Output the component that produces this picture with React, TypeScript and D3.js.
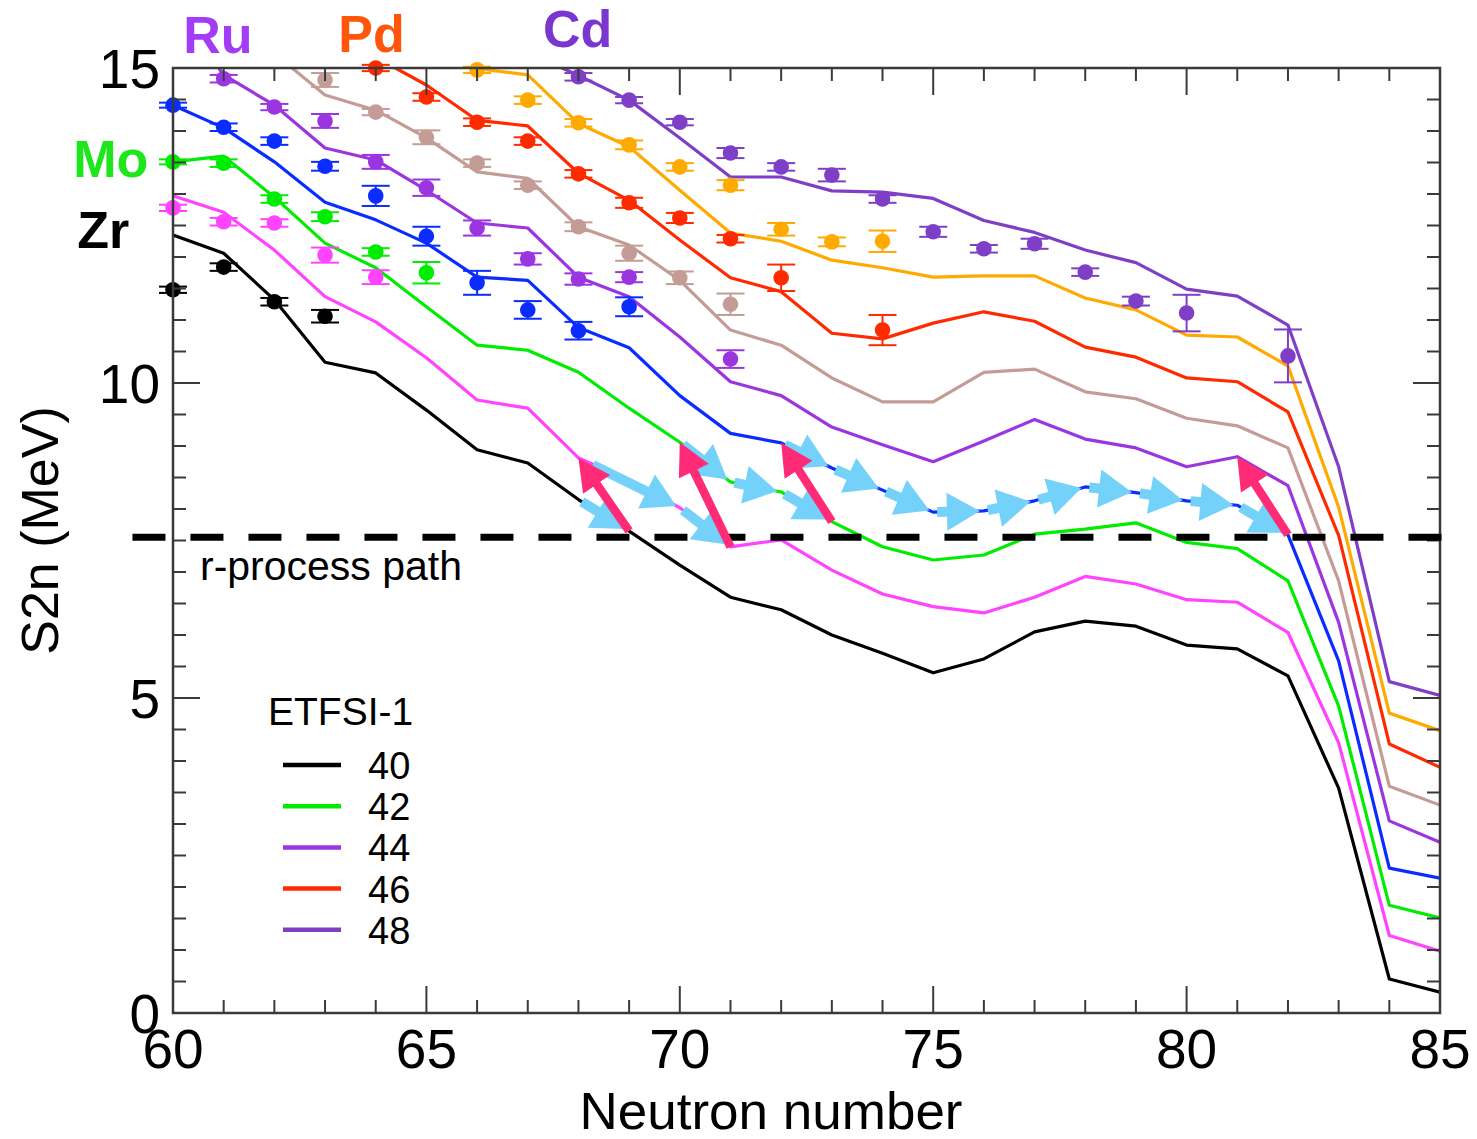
import React from "react";
import * as d3 from "d3";

// neutron numbers on the x axis
const neutronNumbers = [60, 61, 62, 63, 64, 65, 66, 67, 68, 69, 70, 71, 72, 73, 74, 75, 76, 77, 78, 79, 80, 81, 82, 83, 84, 85];

// ETFSI-1 S2n (MeV) per proton number
const etfsiZ40 = [12.35, 12.06, 11.32, 10.33, 10.16, 9.57, 8.94, 8.73, 8.15, 7.65, 7.11, 6.6, 6.4, 6.0, 5.71, 5.4, 5.62, 6.05, 6.22, 6.14, 5.84, 5.78, 5.35, 3.57, 0.54, 0.33];
const etfsiZ41 = [12.97, 12.71, 12.11, 11.37, 10.97, 10.4, 9.73, 9.6, 8.81, 8.46, 8.02, 7.4, 7.51, 7.03, 6.65, 6.45, 6.35, 6.6, 6.93, 6.81, 6.56, 6.52, 6.04, 4.29, 1.23, 0.98];
const etfsiZ42 = [13.51, 13.6, 12.95, 12.22, 11.83, 11.21, 10.6, 10.52, 10.17, 9.6, 9.06, 8.43, 8.27, 7.8, 7.4, 7.19, 7.27, 7.6, 7.68, 7.78, 7.47, 7.37, 6.86, 4.87, 1.71, 1.51];
const etfsiZ43 = [14.41, 14.05, 13.51, 12.87, 12.59, 12.22, 11.68, 11.63, 10.88, 10.56, 9.8, 9.2, 9.05, 8.65, 8.3, 7.95, 7.97, 8.13, 8.35, 8.26, 8.13, 8.06, 7.59, 5.59, 2.3, 2.14];
const etfsiZ44 = [16.0, 14.89, 14.41, 13.73, 13.54, 13.06, 12.54, 12.46, 11.68, 11.37, 10.73, 10.02, 9.8, 9.3, 9.02, 8.75, 9.08, 9.42, 9.11, 8.97, 8.67, 8.83, 8.37, 6.2, 3.05, 2.71];
const etfsiZ45 = [null, null, 15.23, 14.57, 14.33, 13.89, 13.35, 13.25, 12.48, 12.19, 11.63, 10.84, 10.6, 10.08, 9.7, 9.7, 10.17, 10.22, 9.86, 9.75, 9.44, 9.32, 8.97, 6.86, 3.6, 3.3];
const etfsiZ46 = [null, null, null, null, 15.17, 14.73, 14.17, 14.08, 13.33, 12.9, 12.27, 11.67, 11.45, 10.79, 10.7, 10.95, 11.13, 10.98, 10.57, 10.41, 10.08, 10.02, 9.54, 7.58, 4.27, 3.9];
const etfsiZ47 = [null, null, null, null, null, 15.25, 14.99, 14.89, 14.12, 13.75, 13.06, 12.38, 12.25, 11.95, 11.83, 11.68, 11.7, 11.7, 11.35, 11.16, 10.76, 10.73, 10.27, 8.03, 4.76, 4.48];
const etfsiZ48 = [null, null, null, null, null, null, null, 15.25, 14.88, 14.49, 13.89, 13.27, 13.27, 13.05, 13.03, 12.93, 12.58, 12.39, 12.11, 11.91, 11.49, 11.38, 10.92, 8.67, 5.26, 5.04];

// measured S2n with uncertainties
const zrN = [60, 61, 62, 63];
const zrS2n = [11.48, 11.84, 11.29, 11.06];
const zrErr = [0.05, 0.06, 0.06, 0.1];
const nbN = [60, 61, 62, 63, 64];
const nbS2n = [12.78, 12.56, 12.54, 12.03, 11.68];
const nbErr = [0.05, 0.06, 0.06, 0.12, 0.11];
const moN = [60, 61, 62, 63, 64, 65];
const moS2n = [13.51, 13.49, 12.92, 12.64, 12.08, 11.75];
const moErr = [0.04, 0.06, 0.06, 0.07, 0.06, 0.17];
const tcN = [60, 61, 62, 63, 64, 65, 66, 67, 68, 69];
const tcS2n = [14.41, 14.06, 13.84, 13.44, 12.97, 12.33, 11.59, 11.16, 10.83, 11.21];
const tcErr = [0.04, 0.06, 0.06, 0.07, 0.16, 0.15, 0.19, 0.14, 0.14, 0.15];
const ruN = [61, 62, 63, 64, 65, 66, 67, 68, 69, 71];
const ruS2n = [14.83, 14.38, 14.16, 13.51, 13.1, 12.46, 11.97, 11.65, 11.68, 10.38];
const ruErr = [0.06, 0.05, 0.11, 0.11, 0.13, 0.12, 0.09, 0.09, 0.08, 0.14];
const rhN = [63, 64, 65, 66, 67, 68, 69, 70, 71];
const rhS2n = [14.81, 14.3, 13.9, 13.49, 13.14, 12.48, 12.06, 11.67, 11.25];
const rhErr = [0.11, 0.05, 0.11, 0.06, 0.06, 0.07, 0.12, 0.1, 0.17];
const pdN = [64, 65, 66, 67, 68, 69, 70, 71, 72, 74];
const pdS2n = [15.0, 14.54, 14.14, 13.84, 13.32, 12.86, 12.62, 12.29, 11.67, 10.84];
const pdErr = [0.05, 0.06, 0.06, 0.06, 0.06, 0.08, 0.08, 0.06, 0.21, 0.24];
const agN = [66, 67, 68, 69, 70, 71, 72, 73, 74];
const agS2n = [14.97, 14.49, 14.13, 13.78, 13.43, 13.14, 12.44, 12.24, 12.25];
const agErr = [0.05, 0.06, 0.06, 0.07, 0.06, 0.08, 0.1, 0.07, 0.17];
const cdN = [68, 69, 70, 71, 72, 73, 74, 75, 76, 77, 78, 79, 80, 82];
const cdS2n = [14.86, 14.49, 14.14, 13.65, 13.43, 13.3, 12.92, 12.4, 12.13, 12.21, 11.76, 11.3, 11.11, 10.43];
const cdErr = [0.06, 0.05, 0.05, 0.08, 0.06, 0.1, 0.06, 0.08, 0.06, 0.08, 0.06, 0.07, 0.29, 0.42];

// r-process path: neutron captures [Z, N from, N to] and beta decays [Z, N]
const captures = [
  [40, 68, 69], [41, 68, 70], [41, 70, 71], [42, 70, 71], [42, 71, 72], [42, 72, 73],
  [43, 72, 73], [43, 73, 74], [43, 74, 75], [43, 75, 76], [43, 76, 77], [43, 77, 78],
  [43, 78, 79], [43, 79, 80], [43, 80, 81], [43, 81, 82],
];
const decays = [[40, 69], [41, 71], [42, 73], [43, 82]];
const rPathS2n = 7.55;
const rPathRange = [59.2, 85.1];

const legendZ = [40, 42, 44, 46, 48];
const xTickLabels = [60, 65, 70, 75, 80, 85];
const yTickLabels = [0, 5, 10, 15];

const elementLabels = [
  { text: "Ru", n: 60.2, v: 15.24, color: "#a33cf6" },
  { text: "Pd", n: 63.26, v: 15.25, color: "#ff560c" },
  { text: "Cd", n: 67.3, v: 15.33, color: "#7a37cf" },
  { text: "Mo", n: 58.03, v: 13.27, color: "#1de61d" },
  { text: "Zr", n: 58.11, v: 12.14, color: "#000000" },
];

const colors = {
  40: "#000000", 41: "#ff44ff", 42: "#00ec00", 43: "#0a2cff", 44: "#9b35e0",
  45: "#c49c96", 46: "#ff2a00", 47: "#ffaa00", 48: "#7e3fc6",
};

const theory = { 40: etfsiZ40, 41: etfsiZ41, 42: etfsiZ42, 43: etfsiZ43, 44: etfsiZ44, 45: etfsiZ45, 46: etfsiZ46, 47: etfsiZ47, 48: etfsiZ48 };
const measured = [
  { z: 40, n: zrN, v: zrS2n, e: zrErr },
  { z: 41, n: nbN, v: nbS2n, e: nbErr },
  { z: 42, n: moN, v: moS2n, e: moErr },
  { z: 43, n: tcN, v: tcS2n, e: tcErr },
  { z: 44, n: ruN, v: ruS2n, e: ruErr },
  { z: 45, n: rhN, v: rhS2n, e: rhErr },
  { z: 46, n: pdN, v: pdS2n, e: pdErr },
  { z: 47, n: agN, v: agS2n, e: agErr },
  { z: 48, n: cdN, v: cdS2n, e: cdErr },
];

const W = 1477;
const H = 1139;
const margin = { top: 68, right: 37, bottom: 126, left: 173 };
const font = "'Liberation Sans', Arial, Helvetica, sans-serif";

function arrowPath(x1, y1, x2, y2, sw, hl, hw, startPad, endPad) {
  const L = Math.hypot(x2 - x1, y2 - y1);
  const ux = (x2 - x1) / L;
  const uy = (y2 - y1) / L;
  const sx = x1 + ux * startPad;
  const sy = y1 + uy * startPad;
  const tx = x2 - ux * endPad;
  const ty = y2 - uy * endPad;
  const px = -uy;
  const py = ux;
  const bx = tx - ux * hl;
  const by = ty - uy * hl;
  const pts = [
    [sx + (px * sw) / 2, sy + (py * sw) / 2],
    [bx + (px * sw) / 2, by + (py * sw) / 2],
    [bx + (px * hw) / 2, by + (py * hw) / 2],
    [tx, ty],
    [bx - (px * hw) / 2, by - (py * hw) / 2],
    [bx - (px * sw) / 2, by - (py * sw) / 2],
    [sx - (px * sw) / 2, sy - (py * sw) / 2],
  ];
  return "M" + pts.map((p) => p[0].toFixed(1) + "," + p[1].toFixed(1)).join("L") + "Z";
}

export default function App() {
  const x = d3.scaleLinear().domain([60, 85]).range([margin.left, W - margin.right]);
  const y = d3.scaleLinear().domain([0, 15]).range([H - margin.bottom, margin.top]);
  const x0 = x.range()[0];
  const x1 = x.range()[1];
  const y0 = y.range()[0];
  const y1 = y.range()[1];

  const line = d3
    .line()
    .defined((d) => d[1] != null)
    .x((d) => x(d[0]))
    .y((d) => y(d[1]));

  const valueAt = (z, n) => theory[z][neutronNumbers.indexOf(n)];

  const xMinor = d3.range(60, 86, 1);
  const yMinor = d3.range(0, 15.01, 0.5);
  const isMajorX = (t) => t % 5 === 0;
  const isMajorY = (t) => Math.abs(t % 5) < 1e-9;

  return (
    <div style={{ position: "absolute", left: 0, top: 0 }}>
      <svg width={W} height={H} style={{ display: "block", background: "#fff" }} fontFamily={font}>
        <defs>
          <clipPath id="plotclip">
            <rect x={x0} y={y1} width={x1 - x0} height={y0 - y1} />
          </clipPath>
        </defs>

        {/* theory lines */}
        <g clipPath="url(#plotclip)">
          {Object.keys(theory).map((z) => (
            <path
              key={z}
              d={line(neutronNumbers.map((n, i) => [n, theory[z][i]]))}
              fill="none"
              stroke={colors[z]}
              strokeWidth={3.2}
              strokeLinejoin="round"
            />
          ))}
        </g>

        {/* measured points */}
        {measured.map((s) => (
          <g key={s.z} stroke={colors[s.z]} fill={colors[s.z]}>
            {s.n.map((n, i) => {
              const cx = x(n);
              const ytop = y(s.v[i] + s.e[i]);
              const ybot = y(s.v[i] - s.e[i]);
              return (
                <g key={n}>
                  <line x1={cx} x2={cx} y1={ytop} y2={ybot} strokeWidth={2} />
                  <line x1={cx - 14} x2={cx + 14} y1={ytop} y2={ytop} strokeWidth={2} />
                  <line x1={cx - 14} x2={cx + 14} y1={ybot} y2={ybot} strokeWidth={2} />
                  <circle cx={cx} cy={y(s.v[i])} r={7.8} stroke="none" />
                </g>
              );
            })}
          </g>
        ))}

        {/* frame and ticks */}
        <rect x={x0} y={y1} width={x1 - x0} height={y0 - y1} fill="none" stroke="#3a3a3a" strokeWidth={2.5} />
        <g stroke="#3a3a3a" strokeWidth={2}>
          {xMinor.map((t) => {
            const len = isMajorX(t) ? 27 : 13;
            return (
              <g key={"x" + t}>
                <line x1={x(t)} x2={x(t)} y1={y0} y2={y0 - len} />
                <line x1={x(t)} x2={x(t)} y1={y1} y2={y1 + len} />
              </g>
            );
          })}
          {yMinor.map((t) => {
            const len = isMajorY(t) ? 27 : 13;
            return (
              <g key={"y" + t}>
                <line x1={x0} x2={x0 + len} y1={y(t)} y2={y(t)} />
                <line x1={x1} x2={x1 - len} y1={y(t)} y2={y(t)} />
              </g>
            );
          })}
        </g>

        {/* r-process path dashed line */}
        <line
          x1={x(rPathRange[0])}
          x2={x(rPathRange[1])}
          y1={y(rPathS2n)}
          y2={y(rPathS2n)}
          stroke="#000"
          strokeWidth={7}
          strokeDasharray="33 25"
        />

        {/* arrows */}
        <g fill="#74d2fa">
          {captures.map(([z, na, nb], i) => (
            <path
              key={"c" + i}
              d={arrowPath(x(na), y(valueAt(z, na)), x(nb), y(valueAt(z, nb)), 10, 33, 38, nb - na > 1 ? 16 : 4, 4)}
            />
          ))}
        </g>
        <g fill="#ff2b77">
          {decays.map(([z, n], i) => (
            <path
              key={"d" + i}
              d={arrowPath(x(n), y(valueAt(z, n)), x(n - 1), y(valueAt(z + 1, n - 1)), 8.5, 32, 33, 0, 0)}
            />
          ))}
        </g>

        {/* tick labels */}
        <g fontSize={55} fill="#000">
          {xTickLabels.map((t) => (
            <text key={"xl" + t} x={x(t)} y={y0 + 55} textAnchor="middle">
              {t}
            </text>
          ))}
          {yTickLabels.map((t) => (
            <text key={"yl" + t} x={x0 - 13} y={y(t) + 20} textAnchor="end">
              {t}
            </text>
          ))}
        </g>

        {/* axis titles */}
        <text
          x={x(71.8)}
          y={H - 10}
          fontSize={52}
          textAnchor="middle"
          textLength={383}
          lengthAdjust="spacingAndGlyphs"
        >
          Neutron number
        </text>
        <text transform={`translate(58, ${(y0 + y1) / 2 - 10}) rotate(-90)`} fontSize={52} textAnchor="middle">
          S2n (MeV)
        </text>

        {/* r-process label */}
        <text x={x(60) + 27} y={y(rPathS2n) + 43} fontSize={41}>
          r-process path
        </text>

        {/* element labels */}
        {elementLabels.map((l) => (
          <text key={l.text} x={x(l.n)} y={y(l.v)} fontSize={52} fontWeight="bold" fill={l.color}>
            {l.text}
          </text>
        ))}

        {/* legend */}
        <g>
          <text x={x(60) + 95} y={y(5) + 27} fontSize={39}>
            ETFSI-1
          </text>
          {legendZ.map((z, i) => {
            const ly = y(5) + 67 + i * 41.2;
            return (
              <g key={"lg" + z}>
                <line x1={x(60) + 110} x2={x(60) + 168} y1={ly} y2={ly} stroke={colors[z]} strokeWidth={4.5} />
                <text x={x(60) + 195} y={ly + 14} fontSize={38}>
                  {z}
                </text>
              </g>
            );
          })}
        </g>
      </svg>
    </div>
  );
}
